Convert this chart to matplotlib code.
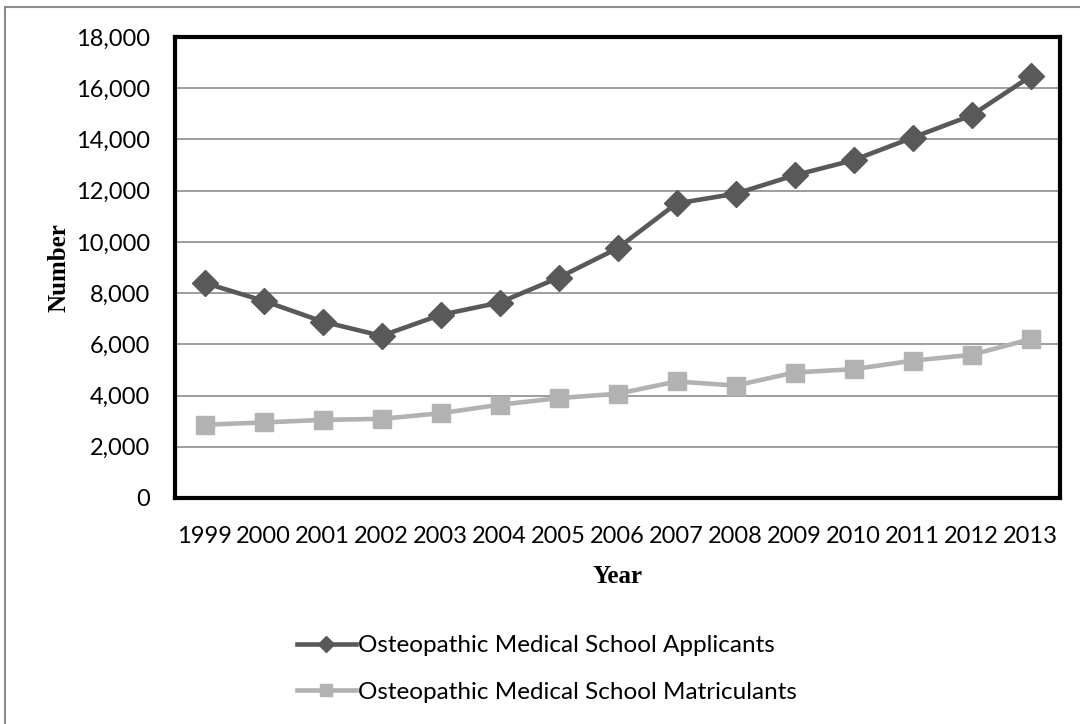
import matplotlib
matplotlib.use('Agg')
import matplotlib.pyplot as plt
from matplotlib.patches import Rectangle

# Osteopathic medical school applicants / matriculants, 1999-2013
years = ['1999', '2000', '2001', '2002', '2003', '2004', '2005', '2006',
         '2007', '2008', '2009', '2010', '2011', '2012', '2013']
applicants = [8400, 7700, 6890, 6330, 7150, 7630, 8600, 9750,
              11500, 11880, 12600, 13190, 14070, 14940, 16460]
matriculants = [2860, 2950, 3050, 3090, 3310, 3640, 3900, 4070,
                4550, 4390, 4900, 5030, 5360, 5590, 6200]

DARK = '#595959'
LIGHT = '#b2b2b2'
tick_font = 'Lato'

fig = plt.figure(figsize=(10.8, 7.24), dpi=100)
ax = fig.add_axes([175/1080, 1 - 498/724, 885/1080, 461/724])

x = list(range(len(years)))
l1, = ax.plot(x, applicants, color=DARK, lw=3.3, marker='D', ms=13,
              label='Osteopathic Medical School Applicants', zorder=3)
l2, = ax.plot(x, matriculants, color=LIGHT, lw=3.3, marker='s', ms=13.5,
              label='Osteopathic Medical School Matriculants', zorder=3)

ax.set_xlim(-0.5, len(years) - 0.5)
ax.set_ylim(0, 18000)
ax.set_yticks(range(0, 18001, 2000))
ax.set_yticklabels([f'{v:,}' for v in range(0, 18001, 2000)],
                   fontsize=17, family=tick_font)
ax.set_xticks(x)
ax.set_xticklabels(years, fontsize=17, family=tick_font)
ax.tick_params(axis='y', length=0, pad=18)
ax.tick_params(axis='x', length=0, pad=20)
ax.yaxis.grid(True, color='#8c8c8c', lw=1.2)
ax.set_axisbelow(True)
for s in ax.spines.values():
    s.set_linewidth(3)
    s.set_color('black')

ax.set_xlabel('Year', fontsize=18, family='Liberation Serif',
              fontweight='bold', labelpad=13)
ax.set_ylabel('Number', fontsize=18, family='Liberation Serif',
              fontweight='bold', labelpad=4)

leg = fig.legend(handles=[l1, l2], loc='center', bbox_to_anchor=(547/1080, 1 - 669/724),
                 ncol=1, frameon=False, prop={'family': tick_font, 'size': 17.5},
                 handlelength=2.4, handletextpad=0.1, labelspacing=1.05, markerscale=0.6)

# outer chart border (cut off at right and bottom)
fig.patches.append(Rectangle((5/1080, -0.1), 1.2, 1 - 7/724 + 0.1,
                             transform=fig.transFigure, fill=False,
                             edgecolor='#8c8c8c', lw=1.5))

fig.savefig('out.png', dpi=100)
